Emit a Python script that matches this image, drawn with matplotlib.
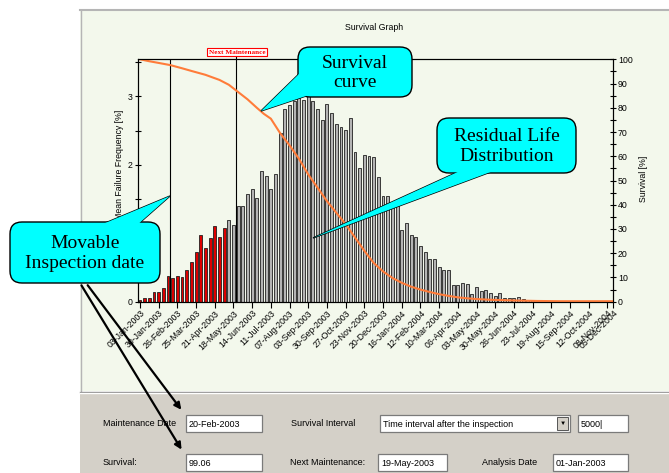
import matplotlib.pyplot as plt
from matplotlib.patches import Rectangle, FancyBboxPatch, Polygon
import numpy as np

W, H = 669, 473

# x tick dates (one tick every 4 bars)
tick_dates = ['03-Jan-2003', '30-Jan-2003', '26-Feb-2003', '25-Mar-2003', '21-Apr-2003',
              '18-May-2003', '14-Jun-2003', '11-Jul-2003', '07-Aug-2003', '03-Sep-2003',
              '30-Sep-2003', '27-Oct-2003', '23-Nov-2003', '20-Dec-2003', '16-Jan-2004',
              '12-Feb-2004', '10-Mar-2004', '06-Apr-2004', '03-May-2004', '30-May-2004',
              '26-Jun-2004', '23-Jul-2004', '19-Aug-2004', '15-Sep-2004', '12-Oct-2004',
              '08-Nov-2004']
end_label = '05-Dec-2004'

# residual life distribution, failure frequency [%] per bar
freq = [0.03, 0.05, 0.06, 0.14, 0.14, 0.20, 0.38, 0.35, 0.37, 0.36,
        0.46, 0.58, 0.72, 0.97, 0.78, 0.93, 1.10, 0.95, 1.07, 1.19,
        1.12, 1.40, 1.40, 1.58, 1.64, 1.51, 1.91, 1.84, 1.64, 1.87,
        2.46, 2.81, 2.87, 2.93, 2.98, 2.95, 3.00, 2.93, 2.81, 2.65,
        2.89, 2.75, 2.60, 2.55, 2.51, 2.68, 2.18, 1.95, 2.14, 2.13,
        2.12, 1.82, 1.55, 1.55, 1.46, 1.40, 1.04, 1.15, 0.97, 0.95,
        0.82, 0.73, 0.63, 0.63, 0.51, 0.46, 0.46, 0.24, 0.24, 0.27,
        0.26, 0.11, 0.21, 0.15, 0.17, 0.13, 0.08, 0.13, 0.06, 0.06,
        0.05, 0.07, 0.035, 0.03, 0.03, 0.03]
n_before_maint = 19   # bars drawn in red

# survival curve [%], read at bar positions
surv_pos = [0, 2, 4, 6.5, 9, 11, 14, 17, 19, 21, 23, 25, 26.5, 28, 30, 32, 34, 36,
            38, 40, 42, 44, 46, 48, 50, 52, 54, 56, 58, 60, 62, 64, 66, 68, 70,
            72, 75, 80, 85, 90, 101]
surv_pct = [100, 99.2, 98.5, 97.6, 96.3, 95.2, 93.6, 91.5, 89.5, 86.5, 83.5, 80,
            77.5, 75.5, 69.5, 64.5, 59, 52.5, 47, 41.5, 36.7, 32, 26.5, 21, 16,
            12.5, 9.8, 7.8, 6.2, 5, 4, 3.1, 2.4, 1.8, 1.4, 1.1, 0.8, 0.5, 0.3,
            0.2, 0.2]

inspect_pos = 6.5      # 20-Feb-2003
next_maint_pos = 20.5  # 19-May-2003

small = 6.3
plt.rcParams['font.family'] = ['Liberation Sans', 'DejaVu Sans']

fig = plt.figure(figsize=(W / 100, H / 100), dpi=100)

# --- window background -------------------------------------------------
bg = fig.add_axes([0, 0, 1, 1], zorder=0)
bg.set_xlim(0, W)
bg.set_ylim(H, 0)
bg.axis('off')
bg.add_patch(Rectangle((80, 11), W - 80, 380, fc='#f3f8ec', ec='none'))
bg.plot([80, W], [10.5, 10.5], color='#b5b5b5', lw=1.5)
bg.plot([80.5, 80.5], [10.5, 391], color='#b5b5b5', lw=1)
bg.add_patch(Rectangle((80, 392), W - 80, H - 392, fc='#d4d0c8', ec='none'))
bg.plot([80, W], [391.5, 391.5], color='#8a8a8a', lw=1)
bg.plot([80, W], [393, 393], color='#ffffff', lw=1)

bg.text(374, 28, 'Survival Graph', ha='center', va='center', fontsize=small)

# form fields
def field(x0, y0, x1, y1, txt):
    bg.add_patch(Rectangle((x0, y0), x1 - x0, y1 - y0, fc='white', ec='#7a7a7a', lw=0.9))
    bg.text(x0 + 3, (y0 + y1) / 2 + 0.5, txt, ha='left', va='center', fontsize=6.5)

row1, row2 = 423.5, 462.5
bg.text(103, row1, 'Maintenance Date', ha='left', va='center', fontsize=6.5)
field(186, 415, 262, 432, '20-Feb-2003')
bg.text(291, row1, 'Survival Interval', ha='left', va='center', fontsize=6.5)
field(380, 415, 570, 432, 'Time interval after the inspection')
bg.add_patch(Rectangle((557, 417), 11, 13, fc='#d4d0c8', ec='#555555', lw=0.7))
bg.text(562.5, 423.5, '\u25bc', ha='center', va='center', fontsize=4.5)
field(578, 415, 628, 432, '5000|')
bg.text(103, row2, 'Survival:', ha='left', va='center', fontsize=6.5)
field(186, 454, 262, 471, '99.06')
bg.text(290, row2, 'Next Maintenance:', ha='left', va='center', fontsize=6.5)
field(378, 454, 447, 471, '19-May-2003')
bg.text(482, row2, 'Analysis Date', ha='left', va='center', fontsize=6.5)
field(553, 454, 628, 471, '01-Jan-2003')

# --- chart ---------------------------------------------------------------
ax = fig.add_axes([137.5 / W, 1 - 301.7 / H, (613 - 137.5) / W, (301.7 - 59.3) / H], zorder=2)
ax.set_facecolor('none')
x = np.arange(len(freq))
colors = ['#dd0000' if i < n_before_maint else '#b4b4b4' for i in x]
ax.bar(x, freq, width=0.62, color=colors, edgecolor='#202020', linewidth=0.6)
ax.set_xlim(-0.53, 101.2)
ax.set_ylim(0, 3.54)
ax.set_yticks([0, 1, 2, 3])
ax.set_yticks(np.arange(0, 3.6, 0.5), minor=True)
ax.tick_params(axis='y', which='major', direction='inout', length=5, width=0.8,
               labelsize=small, pad=1)
ax.tick_params(axis='y', which='minor', direction='inout', length=4, width=0.8)

tick_pos = list(np.arange(len(tick_dates)) * 4) + [101.2]
ax.set_xticks(tick_pos, tick_dates + [end_label], rotation=45, ha='right',
              rotation_mode='anchor', fontsize=small)
ax.tick_params(axis='x', direction='out', length=4, width=0.8, pad=1)
for s in ax.spines.values():
    s.set_linewidth(0.8)

ax.axvline(inspect_pos, color='black', lw=0.8)
ax.axvline(next_maint_pos, color='black', lw=0.8, ymax=1.01, clip_on=False)

ax2 = ax.twinx()
ax2.plot(surv_pos, surv_pct, color='#ff7c3a', lw=1.5)
ax2.set_ylim(0, 100)
ax2.set_yticks(np.arange(0, 101, 10))
ax2.set_yticks(np.arange(0, 101, 5), minor=True)
ax2.tick_params(axis='y', which='major', direction='inout', length=5, width=0.8,
                labelsize=small, pad=1)
ax2.tick_params(axis='y', which='minor', direction='inout', length=4, width=0.8)
for s in ax2.spines.values():
    s.set_linewidth(0.8)

fig.text(120 / W, 1 - 110 / H, 'Mean Failure Frequency [%]', rotation=90,
         ha='center', va='top', fontsize=small)
fig.text(643 / W, 1 - 179 / H, 'Survival [%]', rotation=90,
         ha='center', va='center', fontsize=small)
fig.text(237 / W, 1 - 52 / H, 'Next Maintenance', ha='center', va='center',
         fontsize=5.2, color='red', family='Liberation Serif', weight='bold',
         bbox=dict(boxstyle='square,pad=0.25', fc='white', ec='red', lw=0.8))

# --- callouts ------------------------------------------------------------
ov = fig.add_axes([0, 0, 1, 1], zorder=5)
ov.set_xlim(0, W)
ov.set_ylim(H, 0)
ov.axis('off')

ov.annotate('', xy=(183, 412), xytext=(86, 283),
            arrowprops=dict(arrowstyle='-|>', color='black', lw=1.6, mutation_scale=10))
ov.annotate('', xy=(183, 452), xytext=(80, 283),
            arrowprops=dict(arrowstyle='-|>', color='black', lw=1.6, mutation_scale=10))


def callout(box, tip, base, txt):
    x0, y0, x1, y1 = box
    tri = [base[0], tip, base[1]]
    ov.add_patch(Polygon(tri, closed=True, fc='cyan', ec='black', lw=1, zorder=1))
    ov.add_patch(FancyBboxPatch((x0, y0), x1 - x0, y1 - y0,
                                boxstyle='round,pad=0,rounding_size=12',
                                fc='cyan', ec='black', lw=1, zorder=2))
    ov.add_patch(FancyBboxPatch((x0 + 1.5, y0 + 1.5), x1 - x0 - 3, y1 - y0 - 3,
                                boxstyle='round,pad=0,rounding_size=10',
                                fc='cyan', ec='none', zorder=3))
    ov.add_patch(Polygon(tri, closed=True, fc='cyan', ec='none', zorder=4))
    ov.text((x0 + x1) / 2, (y0 + y1) / 2 + 1, txt, ha='center', va='center',
            fontsize=14, family='Liberation Serif', linespacing=1.2, zorder=5)


callout((298, 47, 412, 97), (261, 111), [(303, 70), (312, 94)], 'Survival\ncurve')
callout((437, 118, 576, 173), (313, 238), [(462, 170), (496, 170)],
        'Residual Life\nDistribution')
callout((10, 222, 160, 283), (170, 196), [(98, 226), (136, 226)],
        'Movable\nInspection date')

fig.savefig('out.png', dpi=100)
